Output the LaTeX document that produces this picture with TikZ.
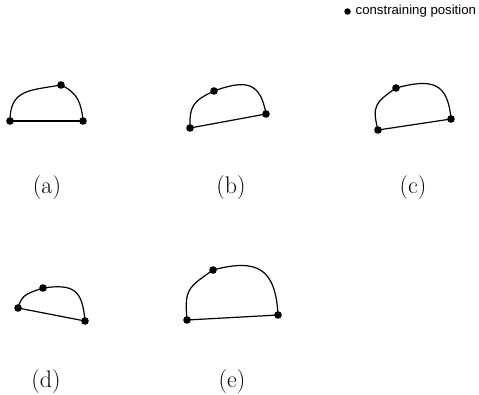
\documentclass[tikz,border=0pt]{standalone}
\usepackage{fontspec}
\newfontfamily\legendfont{Liberation Sans}
\begin{document}
\begin{tikzpicture}[x=1pt,y=-1pt,
  dot/.style={circle,fill=black,inner sep=0pt,minimum size=7.6pt},
  edge/.style={line width=1.2pt},
  lab/.style={font=\fontsize{24}{28}\selectfont,inner sep=0pt},
  legend/.style={font=\legendfont\fontsize{13.2}{15}\selectfont,inner sep=0pt,anchor=west}]
\useasboundingbox (0,0) rectangle (479,394);
% legend
\node[dot,minimum size=6.5pt] (ld) at (347.5,11.5) {};
\node[legend] (lt) at (355.5,11.5) {constraining position};
% (a)
\node[dot] (aL) at (10,121) {};
\node[dot] (aR) at (83,121) {};
\node[dot] (aT) at (61,85) {};
\draw[edge] (aL.center) -- (aR.center);
\draw[edge] (aL.center) to[out=90,in=190,looseness=1.3] (aT.center) to[out=-25,in=95,looseness=1.1] (aR.center);
\node[lab] (la) at (47,188) {(a)};
% (b)
\node[dot] (bL) at (190,128) {};
\node[dot] (bR) at (266,114) {};
\node[dot] (bT) at (214,91) {};
\draw[edge] (bL.center) -- (bR.center);
\draw[edge] (bL.center) to[out=92,in=205,looseness=1.3] (bT.center) to[out=20,in=100,looseness=1.5] (bR.center);
\node[lab] (lb) at (231,188) {(b)};
% (c)
\node[dot] (cL) at (378,130) {};
\node[dot] (cR) at (451,119) {};
\node[dot] (cT) at (396,88) {};
\draw[edge] (cL.center) -- (cR.center);
\draw[edge] (cL.center) to[out=105,in=215,looseness=1.4] (cT.center) to[out=15,in=95,looseness=1.5] (cR.center);
\node[lab] (lc) at (413,188) {(c)};
% (d)
\node[dot] (dL) at (18,308) {};
\node[dot] (dR) at (85,321) {};
\node[dot] (dT) at (43,288) {};
\draw[edge] (dL.center) -- (dR.center);
\draw[edge] (dL.center) to[out=75,in=200,looseness=1.2] (dT.center) to[out=8,in=95,looseness=1.5] (dR.center);
\node[lab] (ld2) at (46,382) {(d)};
% (e)
\node[dot] (eL) at (187,320) {};
\node[dot] (eR) at (278,315) {};
\node[dot] (eT) at (213,270) {};
\draw[edge] (eL.center) -- (eR.center);
\draw[edge] (eL.center) to[out=95,in=215,looseness=1.4] (eT.center) to[out=15,in=93,looseness=1.5] (eR.center);
\node[lab] (le) at (232,382) {(e)};
\end{tikzpicture}
\end{document}
